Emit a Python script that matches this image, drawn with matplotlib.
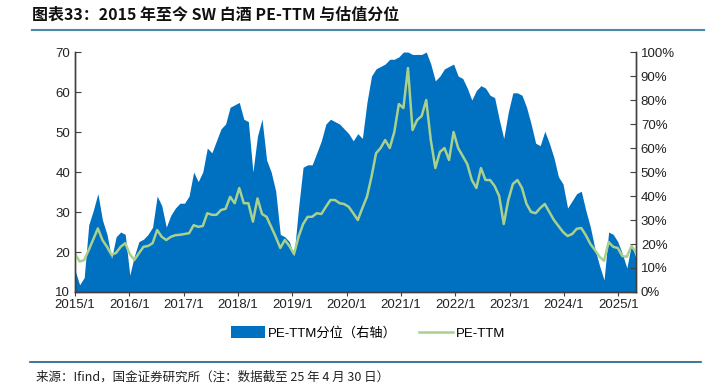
import numpy as np
import pandas as pd
import matplotlib.pyplot as plt
from matplotlib.ticker import FuncFormatter

plt.rcParams['font.family'] = ['Liberation Sans', 'Noto Sans CJK SC', 'DejaVu Sans']

# monthly readings, 2015/1 .. 2025/4
pct = [9, 3, 6, 28, 34, 41, 30, 24, 14, 23, 25, 24,
       7, 15, 21, 22, 24, 27, 40, 36, 27, 32, 35, 37,
       37, 40, 50, 46, 50, 60, 58, 63, 68, 70, 77, 78,
       79, 72, 71, 50, 65, 72, 55, 50, 42, 24, 23, 21,
       15, 35, 52, 53, 53, 58, 63, 70, 72, 71, 70, 68,
       66, 63, 66, 64, 79, 90, 93, 94, 95, 97, 97, 98,
       100, 100, 99, 99, 99, 100, 95, 88, 90, 93, 94, 95,
       90, 89, 85, 80, 84, 86, 85, 82, 81, 72, 64, 75,
       83, 83, 82, 77, 70, 62, 61, 67, 62, 56, 48, 45,
       35, 38, 41, 42, 34, 27, 18, 11, 5, 25, 24, 21,
       16, 10, 20, 14]
pe = [19.6, 17.6, 18.0, 20.5, 23.2, 25.9, 23.0, 21.3, 19.3, 19.8, 21.3, 22.2,
      19.5, 18.0, 19.7, 21.3, 21.5, 22.2, 25.5, 23.8, 23.0, 23.8, 24.2, 24.3,
      24.5, 24.7, 26.7, 26.3, 26.5, 29.7, 29.3, 29.3, 30.5, 30.8, 33.8, 32.2,
      36.0, 32.2, 32.2, 27.6, 33.4, 29.5, 28.8, 26.3, 23.8, 21.0, 23.0, 21.5,
      19.5, 23.8, 27.0, 28.8, 28.8, 29.7, 29.5, 31.3, 33.0, 33.0, 32.2, 32.0,
      31.3, 29.7, 28.0, 31.0, 33.8, 38.8, 44.7, 46.0, 48.0, 46.0, 50.0, 57.0,
      56.0, 66.0, 50.5, 53.0, 54.0, 58.0, 48.0, 41.0, 45.0, 46.0, 43.0, 50.0,
      46.0, 44.0, 42.0, 38.0, 36.0, 41.0, 38.0, 38.0, 36.5, 34.0, 27.0, 33.0,
      37.0, 38.0, 36.0, 32.0, 30.0, 29.7, 31.0, 32.0, 30.0, 28.0, 26.5, 25.0,
      24.0, 24.5, 25.8, 26.0, 24.2, 22.0, 20.5, 18.8, 17.8, 22.5, 21.3, 21.0,
      19.0, 18.8, 21.5, 20.0]

start = pd.Timestamp('2015-01-01')
end = pd.Timestamp('2025-04-30')
dates = pd.to_datetime(np.linspace(start.value, end.value, len(pct)))
years = [pd.Timestamp(f'{y}-01-01') for y in range(2015, 2026)]
year_labels = [f'{y}/1' for y in range(2015, 2026)]

blue = '#0070C0'
green = '#A9D18E'
axis_col = '#404040'

fig = plt.figure(figsize=(7.15, 3.87), dpi=100)
ax = fig.add_axes([0.105, 0.2455, 0.7845, 0.62])
ax2 = ax.twinx()

ax2.fill_between(dates, 0, np.array(pct) / 100, color=blue, lw=0, label='PE-TTM分位（右轴）')
ax.plot(dates, pe, color=green, lw=1.8, label='PE-TTM')
ax.set_zorder(ax2.get_zorder() + 1)
ax.patch.set_visible(False)

ax.set_xlim(start, end)
ax.set_ylim(10, 70)
ax.set_yticks(range(10, 71, 10))
ax2.set_ylim(0, 1)
ax2.set_yticks(np.arange(0, 1.01, 0.1))
ax2.yaxis.set_major_formatter(FuncFormatter(lambda v, p: f'{v * 100:.0f}%'))
ax.set_xticks(years)
ax.set_xticklabels(year_labels)

for a in (ax, ax2):
    a.spines['top'].set_visible(False)
    for s in ('left', 'right', 'bottom'):
        a.spines[s].set_color(axis_col)
        a.spines[s].set_linewidth(1)
ax.tick_params(axis='y', direction='in', length=4, color=axis_col, labelsize=9.5, labelcolor='#222222')
ax2.tick_params(axis='y', direction='in', length=4, color=axis_col, labelsize=9.5, labelcolor='#222222')
ax.tick_params(axis='x', direction='out', length=3, color=axis_col, labelsize=9.5, labelcolor='#222222', pad=2)

h1, l1 = ax2.get_legend_handles_labels()
h2, l2 = ax.get_legend_handles_labels()
fig.legend(h1 + h2, l1 + l2, loc='center', bbox_to_anchor=(0.515, 0.139), ncol=2, frameon=False,
           fontsize=9.5, handlelength=2.6, handleheight=1.0, columnspacing=1.7, handletextpad=0.2)

fig.text(0.045, 0.963, '图表33：2015 年至今 SW 白酒 PE-TTM 与估值分位', fontsize=11.5, fontweight='bold',
         fontstyle='italic', va='center', ha='left', color='#111111',
         family=['Noto Sans CJK SC', 'DejaVu Sans'])
fig.add_artist(plt.Line2D([0.045, 0.985], [0.922, 0.922], color='#4A8AA8', lw=1.5))
fig.add_artist(plt.Line2D([0.042, 0.98], [0.065, 0.065], color='#1F5F8B', lw=1.2))
fig.text(0.05, 0.026, '来源：Ifind，国金证券研究所（注：数据截至 25 年 4 月 30 日）', fontsize=9,
         va='center', ha='left', color='#222222', family=['Noto Sans CJK SC', 'DejaVu Sans'])

fig.savefig('out.png', dpi=100)
